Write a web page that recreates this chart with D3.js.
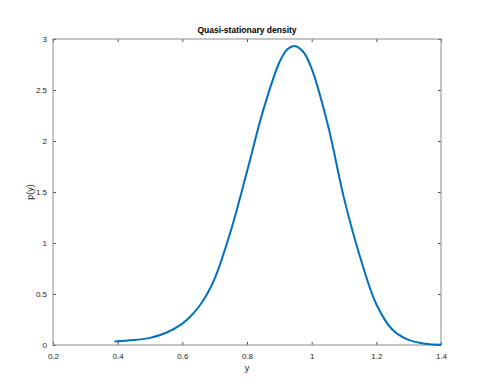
<!DOCTYPE html>
<html>
<head>
<meta charset="utf-8">
<script src="https://cdn.jsdelivr.net/npm/d3@7"></script>
<style>
  body { margin: 0; background: #fff; }
  text { font-family: "Liberation Sans", Arial, sans-serif; }
</style>
</head>
<body>
<div id="chart"></div>
<script>
// values
const yValues = [0.39, 0.45, 0.50, 0.55, 0.60, 0.625, 0.65, 0.675, 0.70, 0.75, 0.80, 0.85,
  0.90, 0.925, 0.95, 0.975, 1.00, 1.05, 1.10, 1.15, 1.20, 1.25, 1.30, 1.35, 1.40];
const pValues = [0.034, 0.048, 0.07, 0.12, 0.21, 0.28, 0.37, 0.49, 0.65, 1.12, 1.70, 2.30,
  2.77, 2.90, 2.93, 2.87, 2.71, 2.16, 1.44, 0.86, 0.40, 0.15, 0.05, 0.013, 0.003];
const xTicks = [0.2, 0.4, 0.6, 0.8, 1, 1.2, 1.4];
const yTicks = [0, 0.5, 1, 1.5, 2, 2.5, 3];

const W = 498, H = 392;
const margin = { top: 39, right: 57, bottom: 47, left: 53 },
    width = W - margin.left - margin.right,
    height = H - margin.top - margin.bottom;

const svg = d3.select("#chart")
    .append("svg")
    .attr("width", W)
    .attr("height", H);

const g = svg.append("g")
    .attr("transform", "translate(" + margin.left + "," + margin.top + ")");

const x = d3.scaleLinear().domain([0.2, 1.4]).range([0, width]);
const y = d3.scaleLinear().domain([0, 3]).range([height, 0]);

const data = yValues.map(function(v, i) { return { y: v, p: pValues[i] }; });

function styleAxis(sel) {
  sel.select(".domain").remove();
  sel.selectAll(".tick line").attr("stroke", "#262626").attr("stroke-width", 0.8);
  sel.selectAll(".tick text").attr("fill", "#262626").style("font-size", "8px");
}

// box axes, ticks pointing inward
g.append("g")
    .attr("transform", "translate(0," + height + ")")
    .call(d3.axisBottom(x).tickValues(xTicks).tickSize(-3).tickPadding(8).tickFormat(d3.format("")))
    .call(styleAxis);
g.append("g")
    .call(d3.axisTop(x).tickValues(xTicks).tickSize(-3).tickFormat(""))
    .call(styleAxis);
g.append("g")
    .call(d3.axisLeft(y).tickValues(yTicks).tickSize(-3).tickPadding(6).tickFormat(d3.format("")))
    .call(styleAxis);
g.append("g")
    .attr("transform", "translate(" + width + ",0)")
    .call(d3.axisRight(y).tickValues(yTicks).tickSize(-3).tickFormat(""))
    .call(styleAxis);

g.append("rect")
    .attr("width", width)
    .attr("height", height)
    .attr("fill", "none")
    .attr("stroke", "#8c8c8c")
    .attr("stroke-width", 1);

const line = d3.line()
    .x(function(d) { return x(d.y); })
    .y(function(d) { return y(d.p); })
    .curve(d3.curveCatmullRom.alpha(0.5));

g.append("path")
    .datum(data)
    .attr("fill", "none")
    .attr("stroke", "#0072BD")
    .attr("stroke-width", 2)
    .attr("d", line);

g.append("text")
    .attr("x", width / 2)
    .attr("y", -6)
    .attr("text-anchor", "middle")
    .style("font-size", "8.5px")
    .style("font-weight", "bold")
    .attr("fill", "#000")
    .text("Quasi-stationary density");

g.append("text")
    .attr("x", width / 2)
    .attr("y", height + 26)
    .attr("text-anchor", "middle")
    .style("font-size", "9px")
    .attr("fill", "#262626")
    .text("y");

g.append("text")
    .attr("transform", "translate(-20," + (height / 2) + ") rotate(-90)")
    .attr("text-anchor", "middle")
    .style("font-size", "9px")
    .attr("fill", "#262626")
    .text("p(y)");
</script>
</body>
</html>
